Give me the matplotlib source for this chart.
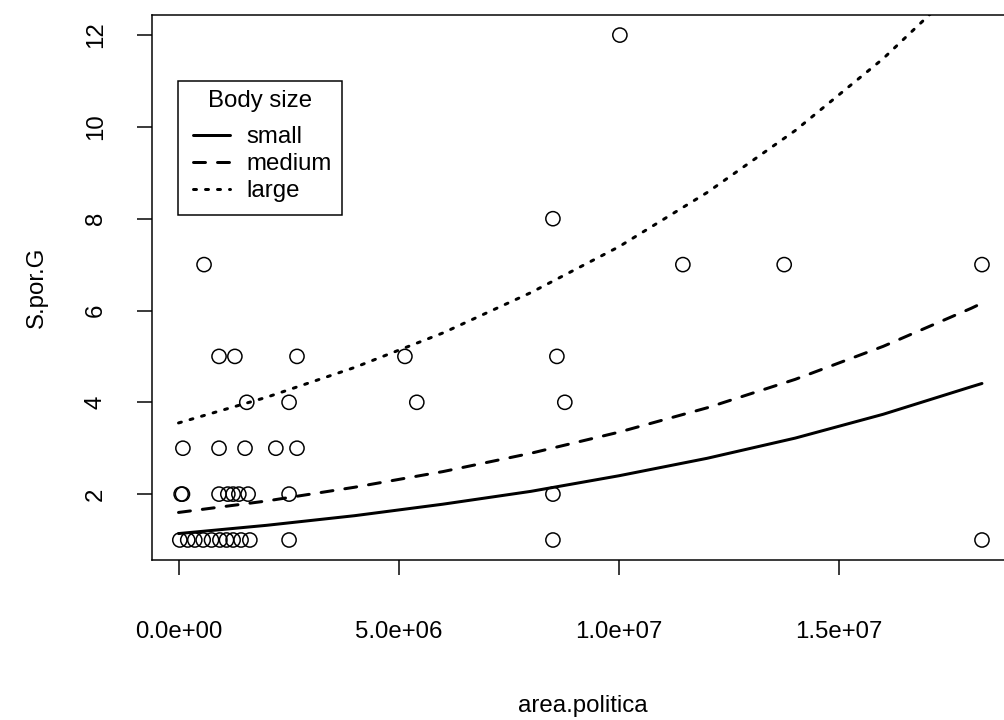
import matplotlib
matplotlib.use("Agg")
import matplotlib.pyplot as plt
import matplotlib.transforms as mtransforms
from matplotlib.lines import Line2D
from matplotlib.patches import Rectangle

# ---------------- data ----------------
area_politica = [
    10.02e6,
    8.50e6,
    0.58e6, 11.45e6, 13.75e6, 18.24e6,
    0.92e6, 1.28e6, 2.69e6, 5.14e6, 8.59e6,
    1.55e6, 2.51e6, 5.41e6, 8.77e6,
    0.10e6, 0.92e6, 1.51e6, 2.21e6, 2.69e6,
    0.06e6, 0.09e6, 0.92e6, 1.12e6, 1.24e6, 1.37e6, 1.58e6, 2.51e6, 8.50e6,
    0.03e6, 0.21e6, 0.37e6, 0.56e6, 0.75e6, 0.94e6, 1.09e6, 1.24e6, 1.42e6,
    1.62e6, 2.51e6, 8.50e6, 18.24e6,
]
s_por_g = [
    12,
    8,
    7, 7, 7, 7,
    5, 5, 5, 5, 5,
    4, 4, 4, 4,
    3, 3, 3, 3, 3,
    2, 2, 2, 2, 2, 2, 2, 2, 2,
    1, 1, 1, 1, 1, 1, 1, 1, 1,
    1, 1, 1, 1,
]

# fitted curves, values
curve_x = [0, 2e6, 4e6, 6e6, 8e6, 10e6, 12e6, 14e6, 16e6, 18e6, 18.24e6]
fit_small = [1.14, 1.32, 1.53, 1.78, 2.06, 2.40, 2.78, 3.22, 3.74, 4.34, 4.41]
fit_medium = [1.60, 1.85, 2.15, 2.49, 2.89, 3.35, 3.88, 4.50, 5.22, 6.05, 6.16]
fit_large = [3.55, 4.11, 4.76, 5.51, 6.39, 7.39, 8.57, 9.92, 11.49, 13.31, 13.54]

body_sizes = ["small", "medium", "large"]
legend_title = "Body size"

xtick_values = [0, 5e6, 10e6, 15e6]
xtick_labels = ["0.0e+00", "5.0e+06", "1.0e+07", "1.5e+07"]
ytick_values = [2, 4, 6, 8, 10, 12]

x_label = "area.politica"
y_label = "S.por.G"

# ---------------- styling ----------------
plt.rcParams["font.family"] = ["Liberation Sans", "DejaVu Sans"]
W, H, DPI = 1004, 720, 144
fig = plt.figure(figsize=(W / DPI, H / DPI), dpi=DPI)
fig.patch.set_facecolor("white")

# plot region in image pixels (top-left origin)
L, R_, T, B = 152.0, 1014.0, 14.9, 560.2
ax = fig.add_axes([L / W, (H - B) / H, (R_ - L) / W, (B - T) / H])
ax.set_xlim(-0.6016e6, 18.967e6)
ax.set_ylim(0.56, 12.44)

ax.scatter(area_politica, s_por_g, s=7.1 ** 2, facecolors="none",
           edgecolors="black", linewidths=0.75, zorder=2, clip_on=False)

styles = [
    dict(linestyle="-"),
    dict(linestyle=(0, (4, 4))),
    dict(linestyle=(0, (1, 3))),
]
for vals, st in zip([fit_small, fit_medium, fit_large], styles):
    ax.plot(curve_x, vals, color="black", lw=1.5, dash_capstyle="round",
            solid_capstyle="round", zorder=3, **st)

ax.set_xticks(xtick_values, xtick_labels)
ax.set_yticks(ytick_values)
ax.tick_params(direction="out", length=7.5, width=0.75, labelsize=12,
               colors="black")
ax.tick_params(axis="x", pad=23)
ax.tick_params(axis="y", pad=15, labelrotation=90)
for lab in ax.get_yticklabels():
    lab.set_va("center")
    lab.set_ha("right")
for sp in ax.spines.values():
    sp.set_linewidth(0.75)
    sp.set_color("black")

ax.set_xlabel(x_label, fontsize=12, va="center")
ax.xaxis.set_label_coords(0.5, ((H - 706) - (H - B)) / (B - T))
ax.set_ylabel(y_label, fontsize=12, va="center")
ax.yaxis.set_label_coords((37 - L) / (R_ - L), 0.5)

# ---------------- legend (R style) ----------------
px = mtransforms.Affine2D().scale(1 / W, -1 / H).translate(0, 1) + fig.transFigure
fig.patches.append(Rectangle((178.3, 80.7), 163.4, 134.3, transform=px,
                             fill=False, edgecolor="black", lw=0.75))
fig.text(260.5, 106.5, legend_title, transform=px, ha="center",
         va="baseline", fontsize=12)
baselines = [143, 170, 197]
for name, st, bl in zip(body_sizes, styles, baselines):
    fig.lines.append(Line2D([193, 230], [bl - 8, bl - 8], transform=px,
                            color="black", lw=1.5, dash_capstyle="round",
                            solid_capstyle="round", **st))
    fig.text(246.7, bl, name, transform=px, ha="left", va="baseline",
             fontsize=12)

fig.savefig("out.png", dpi=DPI, facecolor="white")
